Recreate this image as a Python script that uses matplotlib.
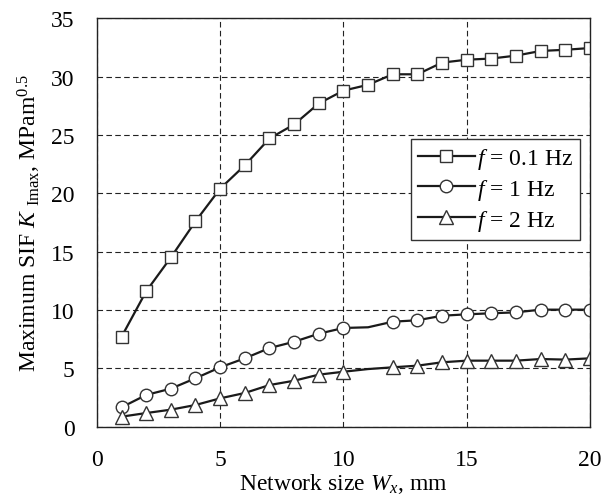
import matplotlib.pyplot as plt
import numpy as np

plt.rcParams["font.family"] = ["Liberation Serif", "DejaVu Serif"]
plt.rcParams["mathtext.fontset"] = "custom"
plt.rcParams["mathtext.rm"] = "Liberation Serif"
plt.rcParams["mathtext.it"] = "Liberation Serif:italic"

# network size Wx (mm)
wx = np.arange(1, 21)

# maximum SIF per loading frequency
sif_01hz = [7.7, 11.6, 14.5, 17.6, 20.4, 22.4, 24.7, 25.9, 27.7, 28.8,
            29.3, 30.2, 30.2, 31.2, 31.45, 31.55, 31.8, 32.2, 32.3, 32.45]
sif_1hz = [1.66, 2.72, 3.26, 4.15, 5.09, 5.86, 6.74, 7.28, 7.97, 8.46,
           8.52, 9.0, 9.12, 9.51, 9.63, 9.72, 9.80, 10.03, 10.03, 10.03]
sif_2hz = [0.86, 1.17, 1.46, 1.86, 2.43, 2.89, 3.57, 3.94, 4.46, 4.71,
           4.94, 5.09, 5.23, 5.52, 5.66, 5.66, 5.66, 5.80, 5.75, 5.86]

# no marker drawn at Wx = 11 for the 1 Hz and 2 Hz curves
skip11 = [i for i in range(len(wx)) if wx[i] != 11]

fig = plt.figure(figsize=(6.13, 5.02), dpi=100)
ax = fig.add_axes([0.158, 0.148, 0.8045, 0.8136])

line_kw = dict(color="#1a1a1a", lw=1.6, markerfacecolor="white",
               markeredgecolor="#333333", markeredgewidth=1.0)
ax.plot(wx, sif_01hz, marker="s", ms=9, label="$f$ = 0.1 Hz", **line_kw)
ax.plot(wx, sif_1hz, marker="o", ms=9, markevery=skip11,
        label="$f$ = 1 Hz", **line_kw)
ax.plot(wx, sif_2hz, marker="^", ms=10.5, markevery=skip11,
        label="$f$ = 2 Hz", **line_kw)

ax.set_xlim(0, 20)
ax.set_ylim(0, 35)
ax.set_xticks([0, 5, 10, 15, 20])
ax.set_yticks(np.arange(0, 36, 5))
ax.tick_params(length=0, pad=16, labelsize=17)
ax.grid(True, color="#222222", ls=(0, (5, 3)), lw=0.8)
for s in ax.spines.values():
    s.set_linewidth(1.0)
    s.set_color("#222222")

ax.set_xlabel("Network size $W_x$, mm", fontsize=17, labelpad=1)
ax.set_ylabel(r"Maximum SIF $K$ $_{\rm Imax}$, MPam$^{0.5}$",
              fontsize=17, labelpad=6)

leg = ax.legend(loc="upper right", bbox_to_anchor=(0.98, 0.705), fontsize=17,
                frameon=True, fancybox=False, edgecolor="#333333",
                framealpha=1, handlelength=2.4, handletextpad=0.1,
                borderpad=0.3, labelspacing=0.25, borderaxespad=0)
leg.get_frame().set_linewidth(1.0)

fig.savefig("out.png", dpi=100)
